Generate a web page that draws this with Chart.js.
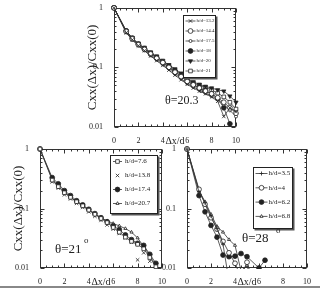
<!DOCTYPE html>
<html>
<head>
<meta charset="utf-8">
<script src="https://cdn.jsdelivr.net/npm/chart.js@4.4.0/dist/chart.umd.min.js"></script>
<style>
html, body { margin: 0; padding: 0; background: #fff; width: 320px; height: 289px; overflow: hidden; }
.panel { position: absolute; }
#rule { position: absolute; left: 0; top: 286px; width: 320px; height: 2px; background: #888; }
</style>
</head>
<body>
<div class="panel" style="left:70px;top:0"><canvas id="cTop" width="176" height="146"></canvas></div>
<div class="panel" style="left:0;top:140px"><canvas id="cLeft" width="170" height="147"></canvas></div>
<div class="panel" style="left:150px;top:140px"><canvas id="cRight" width="170" height="147"></canvas></div>
<div id="rule"></div>
<script>
/* === Cxx(Δx)/Cxx(0) decay — three panels === */

const INK = '#222';
const SERIF = '"Liberation Serif", "DejaVu Serif", serif';

// ── θ = 20.3° ──
const xTop = [0, 1, 1.5, 2, 2.5, 3, 3.5, 4, 4.5, 5, 5.5, 6, 6.5, 7, 7.5, 8, 8.5, 9, 9.5, 10];
const top132 = [1, .38, .29, .23, .19, .155, .13, .108, .09, .074, .062, .052, .045, .040, .036, .032, .027, .015, .021, .018];
const top144 = [1, .40, .30, .24, .20, .168, .142, .12, .10, .083, .07, .058, .051, .045, .040, .036, .031, .026, .021, .017];
const top175 = [1, .39, .29, .235, .195, .16, .135, .113, .095, .078, .065, .054, .047, .042, .037, .033, .029, .024, .019, .015];
const top18  = [1, .41, .31, .245, .205, .17, .145, .122, .102, .086, .072, .06, .052, .046, .041, .036, .03, .021, .0113, null];
const top20  = [1, .40, .31, .25, .21, .176, .15, .128, .11, .094, .08, .064, .057, .052, .048, .045, .042, .04, .033, .026];
const top21  = [1, .41, .31, .25, .212, .178, .152, .128, .108, .09, .076, .062, .055, .05, .046, .042, .037, .032, .026, .02];
const topLabels = ['h/d=13.2', 'h/d=14.4', 'h/d=17.5', 'h/d=18', 'h/d=20', 'h/d=21'];

// ── θ = 21° ──
const xLeft = [0, 1, 1.5, 2, 2.5, 3, 3.5, 4, 4.5, 5, 5.5, 6, 6.5, 7, 7.5, 8, 8.5, 9, 9.5];
const left76  = [1, .30, .233, .184, .154, .13, .111, .094, .08, .068, .058, .048, .04, .033, .028, .025, .021, .015, .0105];
const left138 = [1, .28, .22, .17, .145, .122, .104, .088, .074, .063, .053, .045, .038, .032, .027, .0137, .018, .013, .011];
const left174 = [1, .33, .26, .20, .165, .135, .115, .097, .082, .07, .06, .051, .044, .036, .03, .026, .024, .017, .012];
const left207 = [1, .31, .24, .19, .155, .13, .11, .094, .08, .07, .062, .056, .051, .046, .04, .032, .023, .016, .011];
const leftLabels = ['h/d=7.6', 'h/d=13.8', 'h/d=17.4', 'h/d=20.7'];

// ── θ = 28° ──
const xRight = [0, 1, 1.5, 2, 2.5, 3, 3.5, 4, 4.5, 5, 5.5, 6, 6.5];
const right35 = [1, .19, .125, .075, .046, .025, .006, null, null, null, null, null, null];
const right4  = [1, .21, .118, .07, .045, .028, .018, .012, .007, .0125, .006, null, null];
const right62 = [1, .165, .088, .052, .033, .0165, .0155, .0158, .0175, .0155, null, .01, .0135];
const right68 = [1, .2, .13, .08, .05, .04, .03, .024, .009, .011, .005, null, null];
const rightLabels = ['h/d=3.5', 'h/d=4', 'h/d=6.2', 'h/d=6.8'];

const decades = [1, 0.1, 0.01];

// marker looks
const MK = {
    xcross:  { pointStyle: 'crossRot', pointRadius: 2.4, pointBackgroundColor: '#fff' },
    ring:    { pointStyle: 'circle', pointRadius: 2.4, pointBackgroundColor: '#fff' },
    dot:     { pointStyle: 'circle', pointRadius: 1.5, pointBackgroundColor: '#fff' },
    disc:    { pointStyle: 'circle', pointRadius: 2.4, pointBackgroundColor: INK },
    tridown: { pointStyle: 'triangle', pointRotation: 180, pointRadius: 2.4, pointBackgroundColor: INK },
    square:  { pointStyle: 'rect', pointRadius: 2.6, pointBackgroundColor: '#fff' },
    tri:     { pointStyle: 'triangle', pointRadius: 1.8, pointBackgroundColor: '#fff' },
    tick:    { pointStyle: 'cross', pointRadius: 2, pointBackgroundColor: '#fff' },
};

// ── Plugins ──
const framePlugin = {
    id: 'frame',
    beforeDatasetsDraw(chart) {
        const { ctx, chartArea: a, scales: { x, y } } = chart;
        const L = Math.round(a.left) + .5, R = Math.round(a.right) - .5;
        const T = Math.round(a.top) + .5, B = Math.round(a.bottom) - .5;
        ctx.save();
        ctx.strokeStyle = '#333'; ctx.lineWidth = 1;
        ctx.strokeRect(L, T, R - L, B - T);
        ctx.beginPath();
        for (let v = 0; v <= 10.001; v += 0.5) {
            const px = Math.round(x.getPixelForValue(v)) + .5;
            const len = v % 2 === 0 ? 4 : 2;
            ctx.moveTo(px, B); ctx.lineTo(px, B - len);
            ctx.moveTo(px, T); ctx.lineTo(px, T + len);
        }
        for (let e = -2; e <= 0; e++) for (let m = 1; m <= 9; m++) {
            const v = m * Math.pow(10, e);
            if (v > 1.0001) break;
            const py = Math.round(y.getPixelForValue(v)) + .5;
            const len = m === 1 ? 4 : 2;
            ctx.moveTo(L, py); ctx.lineTo(L + len, py);
            ctx.moveTo(R, py); ctx.lineTo(R - len, py);
        }
        ctx.stroke();
        ctx.restore();
    }
};

function drawMark(ctx, ds, cx, cy) {
    ctx.fillStyle = ds.pointBackgroundColor;
    ctx.strokeStyle = ds.pointBorderColor;
    ctx.lineWidth = ds.pointBorderWidth;
    Chart.helpers.drawPoint(ctx, {
        pointStyle: ds.pointStyle, radius: ds.pointRadius,
        rotation: ds.pointRotation || 0, borderWidth: ds.pointBorderWidth
    }, cx, cy);
}

const legendPlugin = {
    id: 'boxLegend',
    afterDraw(chart, args, o) {
        const { ctx, chartArea: a } = chart;
        const L = Math.round(a.left + o.x) + .5, T = Math.round(a.top + o.y) + .5;
        ctx.save();
        ctx.fillStyle = '#555';
        ctx.fillRect(L + 1, T + 1, o.w + 1, o.h + 1);
        ctx.fillStyle = '#fff';
        ctx.fillRect(L, T, o.w, o.h);
        ctx.strokeStyle = INK; ctx.lineWidth = 1;
        ctx.strokeRect(L, T, o.w, o.h);
        ctx.font = o.size + 'px ' + SERIF;
        ctx.textBaseline = 'middle';
        chart.data.datasets.forEach((ds, i) => {
            const cy = T + o.row0 + i * o.gap;
            if (ds.showLine) {
                ctx.strokeStyle = ds.borderColor; ctx.lineWidth = ds.borderWidth;
                ctx.beginPath(); ctx.moveTo(L + o.lx0, cy); ctx.lineTo(L + o.lx1, cy); ctx.stroke();
            }
            drawMark(ctx, ds, L + (o.lx0 + o.lx1) / 2, cy);
            ctx.fillStyle = INK;
            ctx.fillText(ds.label, L + o.tx, cy);
        });
        ctx.restore();
    }
};

const thetaPlugin = {
    id: 'theta',
    afterDraw(chart, args, o) {
        const { ctx, chartArea: a } = chart;
        ctx.save();
        ctx.fillStyle = INK;
        ctx.textBaseline = 'alphabetic';
        ctx.font = o.size + 'px ' + SERIF;
        ctx.fillText(o.text, a.left + o.x, a.top + o.y);
        ctx.font = o.supSize + 'px ' + SERIF;
        ctx.fillText('o', a.left + o.sx, a.top + o.sy);
        ctx.restore();
    }
};

// ── Panel ──
function makePanel(id, xs, series, p) {
    const datasets = series.map(s => ({
        label: s.label,
        data: xs.map((x, i) => ({ x, y: s.ys[i] })),
        showLine: s.line !== false,
        borderColor: '#333', borderWidth: 0.8,
        pointBorderColor: INK, pointBorderWidth: 0.8,
        spanGaps: true,
        clip: { left: 4, top: 4, right: 4, bottom: 1 },
        ...MK[s.mark],
    }));
    const tickFont = { family: SERIF, size: 8 };
    new Chart(document.getElementById(id), {
        type: 'line',
        data: { datasets },
        options: {
            responsive: false, animation: false, events: [],
            layout: { autoPadding: false, padding: p.pad },
            scales: {
                x: {
                    type: 'linear', min: 0, max: 10,
                    afterFit: s => { s.height = p.xh; },
                    grid: { display: false }, border: { display: false },
                    ticks: { stepSize: 2, padding: 1, color: INK, font: tickFont, maxRotation: 0, autoSkip: false },
                    title: { display: true, text: 'Δx/d', color: INK, font: { family: SERIF, size: 10, lineHeight: 1 }, padding: { top: 0, bottom: 0 } }
                },
                y: {
                    type: 'logarithmic', min: 0.01, max: 1,
                    afterFit: s => { s.width = p.yw; },
                    grid: { display: false }, border: { display: false },
                    ticks: {
                        autoSkip: false, padding: 3, color: INK, font: tickFont,
                        callback: v => decades.some(d => Math.abs(d - v) < d * 1e-6) ? String(v) : ''
                    },
                    title: {
                        display: !!p.ytitle, text: 'Cxx(Δx)/Cxx(0)', color: INK,
                        font: { family: SERIF, size: 13, lineHeight: 1 }, padding: { top: p.ytpad || 0, bottom: 0 }
                    }
                }
            },
            plugins: {
                legend: { display: false }, tooltip: { enabled: false },
                boxLegend: p.legend,
                theta: p.theta
            }
        },
        plugins: [framePlugin, legendPlugin, thetaPlugin]
    });
}

makePanel('cTop', xTop, [
    { label: topLabels[0], ys: top132, mark: 'xcross' },
    { label: topLabels[1], ys: top144, mark: 'ring' },
    { label: topLabels[2], ys: top175, mark: 'dot' },
    { label: topLabels[3], ys: top18, mark: 'disc' },
    { label: topLabels[4], ys: top20, mark: 'tridown' },
    { label: topLabels[5], ys: top21, mark: 'square' },
], {
    pad: { left: 0, top: 6, right: 10, bottom: 0 }, yw: 44, xh: 19, ytitle: true, ytpad: 16,
    legend: { x: 69, y: 7, w: 32, h: 62, row0: 5.5, gap: 10, lx0: 2, lx1: 12, tx: 13, size: 5 },
    theta: { text: 'θ=20.3', size: 12, x: 51, y: 96, supSize: 8, sx: 85, sy: 85 }
});

makePanel('cLeft', xLeft, [
    { label: leftLabels[0], ys: left76, mark: 'square' },
    { label: leftLabels[1], ys: left138, mark: 'xcross', line: false },
    { label: leftLabels[2], ys: left174, mark: 'disc' },
    { label: leftLabels[3], ys: left207, mark: 'tri' },
], {
    pad: { left: 0, top: 9, right: 8, bottom: 0 }, yw: 40, xh: 19, ytitle: true, ytpad: 12.5,
    legend: { x: 70, y: 6, w: 47, h: 58, row0: 6, gap: 14, lx0: 2.5, lx1: 11.5, tx: 14.5, size: 7 },
    theta: { text: 'θ=21', size: 13, x: 15, y: 104, supSize: 9, sx: 44, sy: 94 }
});

makePanel('cRight', xRight, [
    { label: rightLabels[0], ys: right35, mark: 'tick' },
    { label: rightLabels[1], ys: right4, mark: 'ring' },
    { label: rightLabels[2], ys: right62, mark: 'disc' },
    { label: rightLabels[3], ys: right68, mark: 'tri' },
], {
    pad: { left: 0, top: 9, right: 13, bottom: 0 }, yw: 37, xh: 19, ytitle: false,
    legend: { x: 66, y: 18, w: 39, h: 61, row0: 6, gap: 14.3, lx0: 2, lx1: 14, tx: 15, size: 7 },
    theta: { text: 'θ=28', size: 13, x: 55, y: 93, supSize: 9, sx: 89, sy: 84 }
});
</script>
</body>
</html>
